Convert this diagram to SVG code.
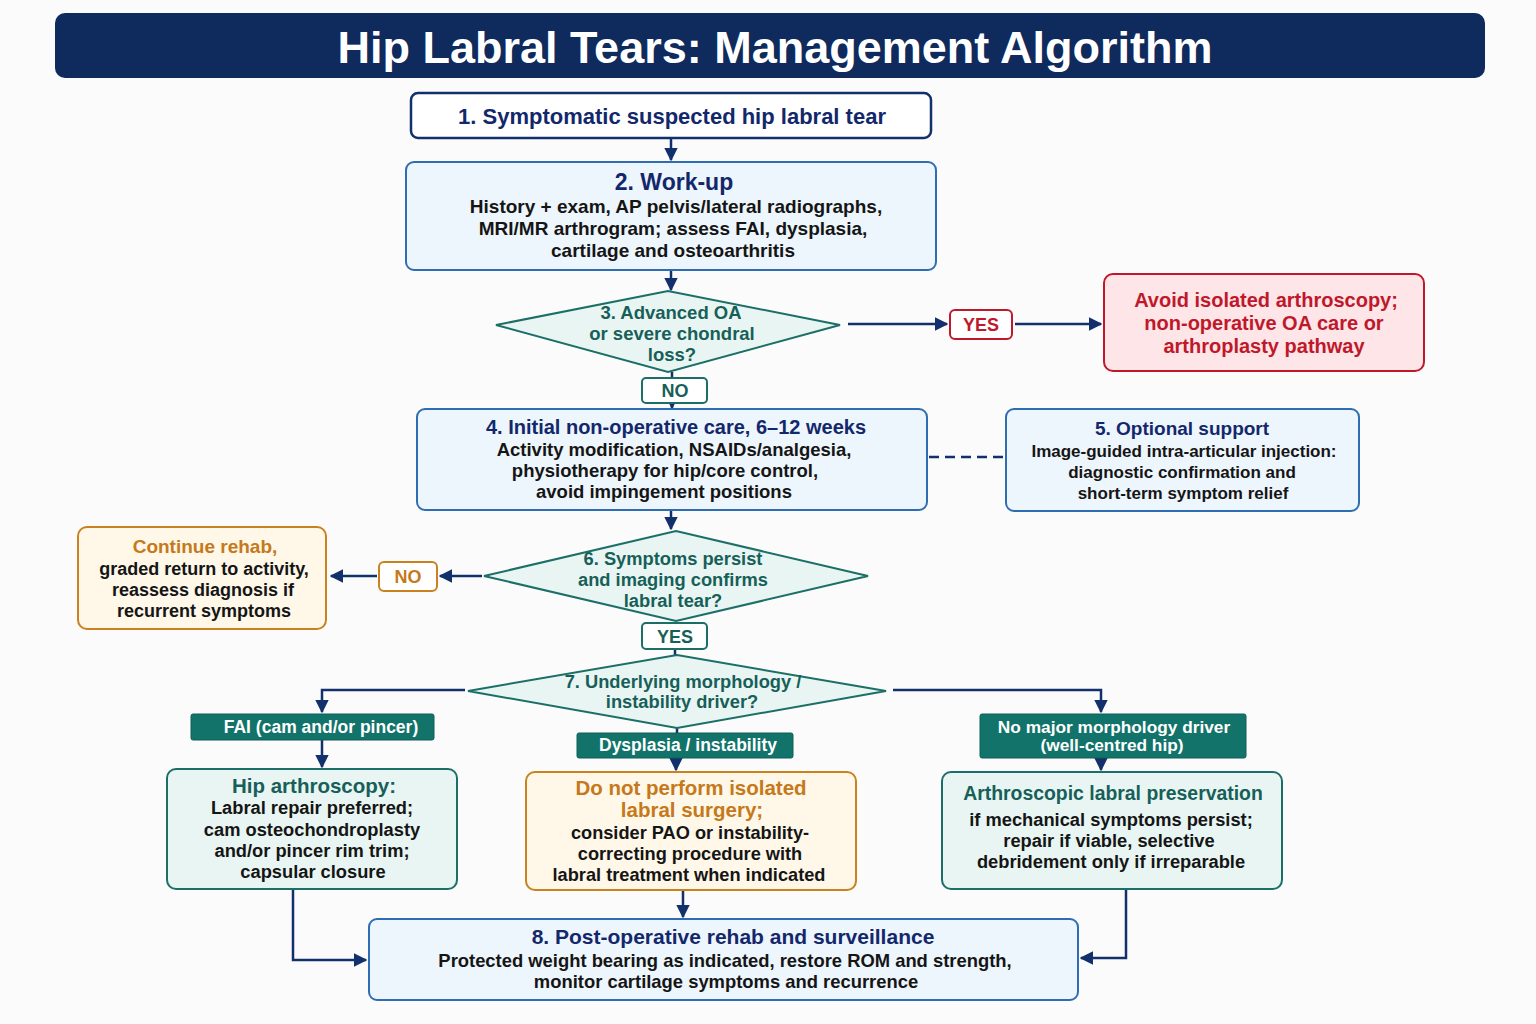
<svg xmlns="http://www.w3.org/2000/svg" width="1536" height="1024" viewBox="0 0 1536 1024">
<defs>
<marker id="ah" viewBox="0 0 10 10" refX="9" refY="5" markerWidth="5.5" markerHeight="5.5" orient="auto-start-reverse" markerUnits="strokeWidth">
<path d="M0,0 L10,5 L0,10 z" fill="#12306b"/>
</marker>
<style>
text{font-family:"Liberation Sans",Arial,sans-serif;font-weight:bold;text-anchor:middle}
.blue{fill:#edf5fd;stroke:#2f6db3;stroke-width:2}
.navyb{fill:#ffffff;stroke:#12306b;stroke-width:2.5}
.teal{fill:#e8f5f3;stroke:#1b6f67;stroke-width:2}
.red{fill:#fde5e8;stroke:#c0182b;stroke-width:2}
.org{fill:#fff7e8;stroke:#c9821d;stroke-width:2}
.tealf{fill:#12736a;stroke:#0f5f57;stroke-width:1}
.lblT{fill:#ffffff;stroke:#1b6f67;stroke-width:2}
.lblR{fill:#ffffff;stroke:#c0182b;stroke-width:2}
.lblO{fill:#ffffff;stroke:#c9821d;stroke-width:2}
.c{fill:none;stroke:#12306b;stroke-width:2.5}
.tn{fill:#13286b}
.tk{fill:#151515}
.tt{fill:#175f58}
.tr{fill:#c0182b}
.to{fill:#c5791a}
.tw{fill:#ffffff}
</style>
</defs>
<rect width="1536" height="1024" fill="#fbfbfb"/>
<g id="title">
<rect x="55" y="13" width="1430" height="65" rx="10" fill="#0f2a5c"/>
<text x="775" y="63" font-size="45" class="tw">Hip Labral Tears: Management Algorithm</text>
</g>
<g id="connectors">
<line class="c" x1="671" y1="138" x2="671" y2="160" marker-end="url(#ah)"/>
<line class="c" x1="671" y1="270" x2="671" y2="290" marker-end="url(#ah)"/>
<line class="c" x1="848" y1="324" x2="947" y2="324" marker-end="url(#ah)"/>
<line class="c" x1="1015" y1="324" x2="1101" y2="324" marker-end="url(#ah)"/>
<line class="c" x1="672" y1="372" x2="672" y2="378"/>
<line class="c" x1="672" y1="403" x2="672" y2="408" marker-end="url(#ah)"/>
<line class="c" x1="929" y1="457" x2="1003" y2="457" stroke-dasharray="10,6"/>
<line class="c" x1="671" y1="510" x2="671" y2="529" marker-end="url(#ah)"/>
<line class="c" x1="482" y1="576" x2="440" y2="576" marker-end="url(#ah)"/>
<line class="c" x1="377" y1="576" x2="331" y2="576" marker-end="url(#ah)"/>
<line class="c" x1="675" y1="649" x2="675" y2="656"/>
<polyline class="c" points="465,690 322,690 322,712" marker-end="url(#ah)"/>
<line class="c" x1="322" y1="740" x2="322" y2="767" marker-end="url(#ah)"/>
<line class="c" x1="677" y1="728" x2="677" y2="733"/>
<line class="c" x1="676" y1="758" x2="676" y2="770" marker-end="url(#ah)"/>
<polyline class="c" points="893,690 1101,690 1101,712" marker-end="url(#ah)"/>
<line class="c" x1="1101" y1="758" x2="1101" y2="770" marker-end="url(#ah)"/>
<polyline class="c" points="293,889 293,960 366,960" marker-end="url(#ah)"/>
<line class="c" x1="683" y1="890" x2="683" y2="917" marker-end="url(#ah)"/>
<polyline class="c" points="1126,889 1126,958 1081,958" marker-end="url(#ah)"/>
</g>
<g id="n1">
<rect class="navyb" x="411" y="93" width="520" height="45" rx="7"/>
<text x="672" y="124" font-size="22" class="tn">1. Symptomatic suspected hip labral tear</text>
</g>
<g id="n2">
<rect class="blue" x="406" y="162" width="530" height="108" rx="8"/>
<text x="674" y="190" font-size="23" class="tn">2. Work-up</text>
<text x="676" y="213" font-size="19" class="tk">History + exam, AP pelvis/lateral radiographs,</text>
<text x="673" y="235" font-size="19" class="tk">MRI/MR arthrogram; assess FAI, dysplasia,</text>
<text x="673" y="257" font-size="19" class="tk">cartilage and osteoarthritis</text>
</g>
<g id="n3">
<polygon class="teal" points="496,325 668,291 840,325 668,372"/>
<text x="671" y="319" font-size="18.5" class="tt">3. Advanced OA</text>
<text x="672" y="340" font-size="18.5" class="tt">or severe chondral</text>
<text x="672" y="361" font-size="18.5" class="tt">loss?</text>
</g>
<g id="yes3">
<rect class="lblR" x="950" y="310" width="62" height="29" rx="5"/>
<text x="981" y="331" font-size="18" class="tr">YES</text>
</g>
<g id="nRed">
<rect class="red" x="1104" y="274" width="320" height="97" rx="9"/>
<text x="1266" y="307" font-size="20" class="tr">Avoid isolated arthroscopy;</text>
<text x="1264" y="330" font-size="20" class="tr">non-operative OA care or</text>
<text x="1264" y="353" font-size="20" class="tr">arthroplasty pathway</text>
</g>
<g id="no3">
<rect class="lblT" x="642" y="378" width="65" height="25" rx="4"/>
<text x="675" y="397" font-size="18" class="tt">NO</text>
</g>
<g id="n4">
<rect class="blue" x="417" y="409" width="510" height="101" rx="8"/>
<text x="676" y="434" font-size="20" class="tn">4. Initial non-operative care, 6–12 weeks</text>
<text x="674" y="456" font-size="18.5" class="tk">Activity modification, NSAIDs/analgesia,</text>
<text x="665" y="477" font-size="18.5" class="tk">physiotherapy for hip/core control,</text>
<text x="664" y="498" font-size="18.5" class="tk">avoid impingement positions</text>
</g>
<g id="n5">
<rect class="blue" x="1006" y="409" width="353" height="102" rx="8"/>
<text x="1182" y="435" font-size="19" class="tn">5. Optional support</text>
<text x="1184" y="457" font-size="17" class="tk">Image-guided intra-articular injection:</text>
<text x="1182" y="478" font-size="17" class="tk">diagnostic confirmation and</text>
<text x="1183" y="499" font-size="17" class="tk">short-term symptom relief</text>
</g>
<g id="n6">
<polygon class="teal" points="484,576 676,531 868,576 676,621"/>
<text x="673" y="565" font-size="18.3" class="tt">6. Symptoms persist</text>
<text x="673" y="586" font-size="18.3" class="tt">and imaging confirms</text>
<text x="673" y="607" font-size="18.3" class="tt">labral tear?</text>
</g>
<g id="no6">
<rect class="lblO" x="379" y="562" width="58" height="29" rx="5"/>
<text x="408" y="583" font-size="18" class="to">NO</text>
</g>
<g id="nRehab">
<rect class="org" x="78" y="527" width="248" height="102" rx="9"/>
<text x="205" y="553" font-size="19" class="to">Continue rehab,</text>
<text x="204" y="575" font-size="18" class="tk">graded return to activity,</text>
<text x="203" y="596" font-size="18" class="tk">reassess diagnosis if</text>
<text x="204" y="617" font-size="18" class="tk">recurrent symptoms</text>
</g>
<g id="yes6">
<rect class="lblT" x="642" y="623" width="65" height="26" rx="4"/>
<text x="675" y="643" font-size="18" class="tt">YES</text>
</g>
<g id="n7">
<polygon class="teal" points="468,691 677,655 886,691 677,728"/>
<text x="683" y="688" font-size="18.3" class="tt">7. Underlying morphology /</text>
<text x="682" y="708" font-size="18.3" class="tt">instability driver?</text>
</g>
<g id="lFAI">
<rect class="tealf" x="191" y="714" width="243" height="26" rx="2"/>
<text x="321" y="733" font-size="17.5" class="tw">FAI (cam and/or pincer)</text>
</g>
<g id="lDys">
<rect class="tealf" x="577" y="733" width="216" height="25" rx="2"/>
<text x="688" y="751" font-size="17.5" class="tw">Dysplasia / instability</text>
</g>
<g id="lNoMaj">
<rect class="tealf" x="980" y="714" width="266" height="44" rx="2"/>
<text x="1114" y="733" font-size="17.3" class="tw">No major morphology driver</text>
<text x="1112" y="751" font-size="17.3" class="tw">(well-centred hip)</text>
</g>
<g id="nArth">
<rect class="teal" x="167" y="769" width="290" height="120" rx="9"/>
<text x="314" y="793" font-size="20.5" class="tt">Hip arthroscopy:</text>
<text x="312" y="814" font-size="18.3" class="tk">Labral repair preferred;</text>
<text x="312" y="836" font-size="18.3" class="tk">cam osteochondroplasty</text>
<text x="312" y="857" font-size="18.3" class="tk">and/or pincer rim trim;</text>
<text x="313" y="878" font-size="18.3" class="tk">capsular closure</text>
</g>
<g id="nDys">
<rect class="org" x="526" y="772" width="330" height="118" rx="9"/>
<text x="691" y="795" font-size="20.5" class="to">Do not perform isolated</text>
<text x="692" y="817" font-size="20.5" class="to">labral surgery;</text>
<text x="690" y="839" font-size="18.2" class="tk">consider PAO or instability-</text>
<text x="690" y="860" font-size="18.2" class="tk">correcting procedure with</text>
<text x="689" y="881" font-size="18.2" class="tk">labral treatment when indicated</text>
</g>
<g id="nPres">
<rect class="teal" x="942" y="772" width="340" height="117" rx="9"/>
<text x="1113" y="800" font-size="19.4" class="tt">Arthroscopic labral preservation</text>
<text x="1111" y="826" font-size="18.3" class="tk">if mechanical symptoms persist;</text>
<text x="1109" y="847" font-size="18.3" class="tk">repair if viable, selective</text>
<text x="1111" y="868" font-size="18.3" class="tk">debridement only if irreparable</text>
</g>
<g id="n8">
<rect class="blue" x="369" y="919" width="709" height="81" rx="8"/>
<text x="733" y="944" font-size="21" class="tn">8. Post-operative rehab and surveillance</text>
<text x="725" y="967" font-size="18.4" class="tk">Protected weight bearing as indicated, restore ROM and strength,</text>
<text x="726" y="988" font-size="18.4" class="tk">monitor cartilage symptoms and recurrence</text>
</g>
</svg>
